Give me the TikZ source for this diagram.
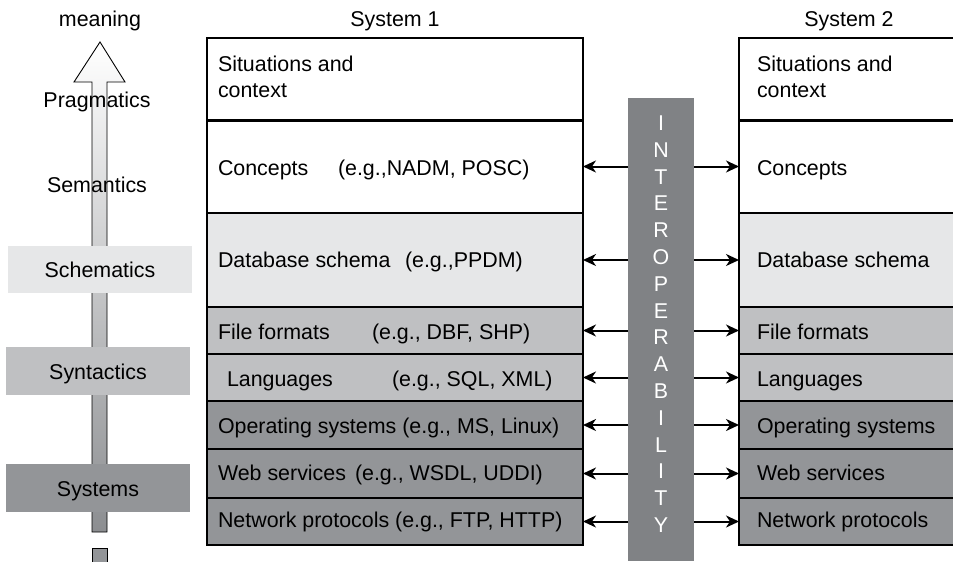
\documentclass[tikz,border=0pt]{standalone}
\usepackage{fontspec}
\setmainfont{Liberation Sans}
\usetikzlibrary{arrows.meta}
\definecolor{layerlight}{HTML}{E6E7E8}
\definecolor{layermid}{HTML}{BFC0C2}
\definecolor{layerdark}{HTML}{939598}
\definecolor{barfill}{HTML}{808285}
\begin{document}
\begin{tikzpicture}[x=1pt,y=-1pt,
  every node/.style={font=\fontsize{21.4}{26}\selectfont, inner sep=0pt, outer sep=0pt},
  layer/.style={draw=black, line width=1.4pt, rectangle, anchor=north west},
  wide/.style={layer, minimum width=376pt},
  open/.style={layer, minimum width=240pt},
  levelbox/.style={rectangle, anchor=north west, minimum width=184pt, minimum height=48pt},
  lbl/.style={anchor=base west},
  clbl/.style={anchor=base},
  conn/.style={line width=2pt, -{Stealth[length=13pt,width=12pt,inset=4pt]}},
  sep/.style={line width=3pt}
]
\useasboundingbox (0,0) rectangle (953,562);

% rising arrow on the left, shaded from light to dark
\shade[top color=white, bottom color=layerdark!95!black, draw=black, line width=0.9pt]
  (92,532) -- (92,82) -- (74,82) -- (100,42) -- (125,82) -- (107,82) -- (107,532) -- cycle;
\draw[fill=layerdark, line width=0.9pt] (92,548) rectangle (107,580);

% level boxes over the arrow shaft
\node[levelbox, fill=layerlight, minimum height=47pt] (schbox) at (8,246) {};
\node[levelbox, fill=layermid] (synbox) at (6,347) {};
\node[levelbox, fill=layerdark] (sysbox) at (6,464) {};

\node[clbl] (meaning) at (100,27) {meaning};
\node[clbl] (prag) at (97,107) {Pragmatics};
\node[clbl] (sem) at (97,192) {Semantics};
\node[clbl] (schem) at (100,277) {Schematics};
\node[clbl] (synt) at (98,379) {Syntactics};
\node[clbl] (syst) at (98,496) {Systems};

% headings
\node[clbl] (hone) at (395,26) {System 1};
\node[clbl] (htwo) at (849,26) {System 2};

% System 1 layers
\node[wide, minimum height=82pt] (sa) at (207,38) {};
\node[wide, minimum height=93pt] (sb) at (207,120) {};
\node[wide, fill=layerlight, minimum height=94pt] (sc) at (207,213) {};
\node[wide, fill=layermid, minimum height=47pt] (sd) at (207,307) {};
\node[wide, fill=layermid, minimum height=47pt] (se) at (207,354) {};
\node[wide, fill=layerdark, minimum height=48pt] (sf) at (207,401) {};
\node[wide, fill=layerdark, minimum height=49pt] (sg) at (207,449) {};
\node[wide, fill=layerdark, minimum height=47pt] (sh) at (207,498) {};
\draw[sep] (sa.south west) -- (sa.south east);

% System 2 layers (running off the right edge)
\node[open, minimum height=82pt] (ta) at (739,38) {};
\node[open, minimum height=93pt] (tb) at (739,120) {};
\node[open, fill=layerlight, minimum height=94pt] (tc) at (739,213) {};
\node[open, fill=layermid, minimum height=47pt] (td) at (739,307) {};
\node[open, fill=layermid, minimum height=47pt] (te) at (739,354) {};
\node[open, fill=layerdark, minimum height=48pt] (tf) at (739,401) {};
\node[open, fill=layerdark, minimum height=49pt] (tg) at (739,449) {};
\node[open, fill=layerdark, minimum height=47pt] (th) at (739,498) {};
\draw[sep] (ta.south west) -- (ta.south east);

% System 1 texts
\node[lbl] (sa1) at (218,71) {Situations and};
\node[lbl] (sa2) at (218,97) {context};
\node[lbl] (sb1) at (218,175) {Concepts};
\node[lbl] (sb2) at (338,175) {(e.g.,NADM, POSC)};
\node[lbl] (sc1) at (218,267) {Database schema};
\node[lbl] (sc2) at (405,267) {(e.g.,PPDM)};
\node[lbl] (sd1) at (218,339) {File formats};
\node[lbl] (sd2) at (372,339) {(e.g., DBF, SHP)};
\node[lbl] (se1) at (227,386) {Languages};
\node[lbl] (se2) at (392,386) {(e.g., SQL, XML)};
\node[lbl] (sf1) at (218,433) {Operating systems (e.g., MS, Linux)};
\node[lbl] (sg1) at (218,480) {Web services};
\node[lbl] (sg2) at (355,480) {(e.g., WSDL, UDDI)};
\node[lbl] (sh1) at (218,527) {Network protocols (e.g., FTP, HTTP)};

% System 2 texts
\node[lbl] (ta1) at (757,71) {Situations and};
\node[lbl] (ta2) at (757,97) {context};
\node[lbl] (tb1) at (757,175) {Concepts};
\node[lbl] (tc1) at (757,267) {Database schema};
\node[lbl] (td1) at (757,339) {File formats};
\node[lbl] (te1) at (757,386) {Languages};
\node[lbl] (tf1) at (757,433) {Operating systems};
\node[lbl] (tg1) at (757,480) {Web services};
\node[lbl] (th1) at (757,527) {Network protocols};

% interoperability bar
\node[rectangle, fill=barfill, anchor=north west, minimum width=66pt, minimum height=463pt] (bar) at (628,98) {};
\foreach \ch [count=\i from 0] in {I,N,T,E,R,O,P,E,R,A,B,I,L,I,T,Y}
  \node[clbl, text=white] (ip\i) at (661,{130.5+26.8*\i}) {\ch};

% connectors from the bar to both systems
\foreach \r/\t in {sb/tb,sc/tc,sd/td,se/te,sf/tf,sg/tg,sh/th} {
  \draw[conn] (bar.west |- \r.east) -- (\r.east);
  \draw[conn] (bar.east |- \t.west) -- (\t.west);
}
\end{tikzpicture}
\end{document}
